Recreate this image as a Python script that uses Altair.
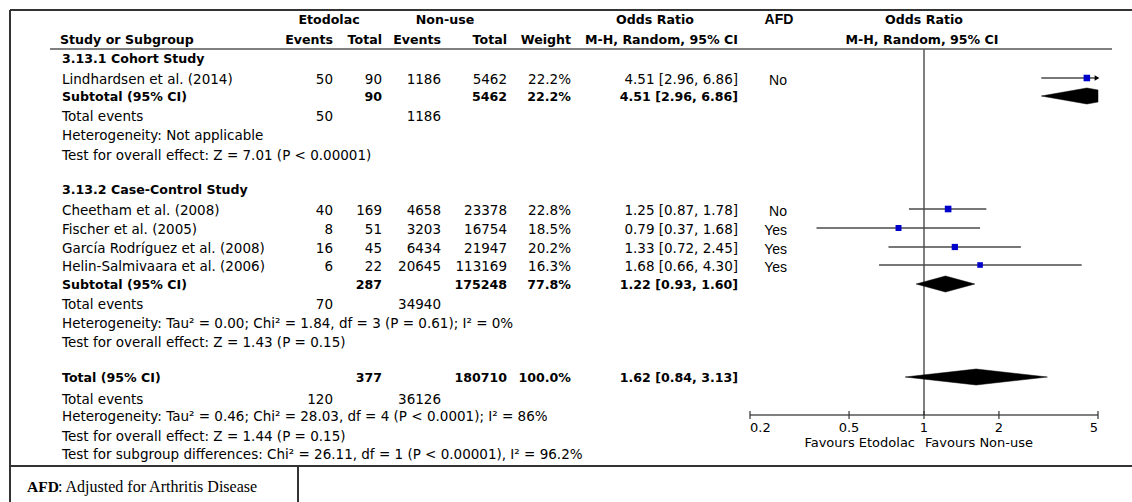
import math
import altair as alt
import pandas as pd

# ---- study data -------------------------------------------------------------
studies = [
    "Lindhardsen et al. (2014)",
    "Cheetham et al. (2008)",
    "Fischer et al. (2005)",
    "García Rodríguez et al. (2008)",
    "Helin-Salmivaara et al. (2006)",
]
study_group = [0, 1, 1, 1, 1]
etod_events = [50, 40, 8, 16, 6]
etod_total = [90, 169, 51, 45, 22]
nonuse_events = [1186, 4658, 3203, 6434, 20645]
nonuse_total = [5462, 23378, 16754, 21947, 113169]
weights = [22.2, 22.8, 18.5, 20.2, 16.3]
or_est = [4.51, 1.25, 0.79, 1.33, 1.68]
or_low = [2.96, 0.87, 0.37, 0.72, 0.66]
or_high = [6.86, 1.78, 1.68, 2.45, 4.30]
afd = ["No", "No", "Yes", "Yes", "Yes"]

# ---- subgroup summaries -----------------------------------------------------
group_titles = ["3.13.1 Cohort Study", "3.13.2 Case-Control Study"]
group_etod_events = [50, 70]
group_etod_total = [90, 287]
group_nonuse_events = [1186, 34940]
group_nonuse_total = [5462, 175248]
group_weight = [22.2, 77.8]
group_or = [4.51, 1.22]
group_low = [2.96, 0.93]
group_high = [6.86, 1.60]
group_heterogeneity = [
    "Heterogeneity: Not applicable",
    "Heterogeneity: Tau² = 0.00; Chi² = 1.84, df = 3 (P = 0.61); I² = 0%",
]
group_effect = [
    "Test for overall effect: Z = 7.01 (P < 0.00001)",
    "Test for overall effect: Z = 1.43 (P = 0.15)",
]

# ---- overall pooled result --------------------------------------------------
total_etod_events = 120
total_etod_total = 377
total_nonuse_events = 36126
total_nonuse_total = 180710
total_weight = 100.0
total_or = 1.62
total_low = 0.84
total_high = 3.13
total_heterogeneity = "Heterogeneity: Tau² = 0.46; Chi² = 28.03, df = 4 (P < 0.0001); I² = 86%"
total_effect = "Test for overall effect: Z = 1.44 (P = 0.15)"
subgroup_test = "Test for subgroup differences: Chi² = 26.11, df = 1 (P < 0.00001), I² = 96.2%"

axis_ticks = [0.2, 0.5, 1, 2, 5]

# ---- layout -----------------------------------------------------------------
W, H = 1132, 502
OR_MIN, OR_MAX = 0.2, 5
X_NAME = 62
X_EE, X_ET, X_NE, X_NT, X_W, X_OR, X_AFD = 333, 382, 441, 507, 571, 738, 787
FS, FS_B = 13.5, 12.6

# vertical positions of the table rows
row_y = {
    "head1": 20, "head2": 40,
    "g0_title": 59, "s0": 80, "g0_sub": 97, "g0_ev": 117, "g0_het": 136, "g0_eff": 156,
    "g1_title": 190, "s1": 211, "s2": 230, "s3": 249, "s4": 267,
    "g1_sub": 285, "g1_ev": 305, "g1_het": 324, "g1_eff": 343,
    "tot": 378, "tot_ev": 400, "tot_het": 417, "tot_eff": 437, "sub_test": 455,
}
PLOT_SHIFT = -2        # forest marks sit slightly above the text baseline
AXIS_Y = 415
DIAMOND_HALF = 8

pix_x = alt.Scale(domain=[0, W], range=[0, W])
pix_y = alt.Scale(domain=[0, H], range=[0, H])
or_scale = alt.Scale(type="log", domain=[OR_MIN, OR_MAX], range=[750, 1098])


def fmt_ci(e, lo, hi):
    return f"{e:.2f} [{lo:.2f}, {hi:.2f}]"


left_n, left_b, right_n, right_b, center_b = [], [], [], [], []

# headers
center_b += [("Etodolac", 329, row_y["head1"]), ("Non-use", 445, row_y["head1"]),
             ("Odds Ratio", 655, row_y["head1"]), ("Odds Ratio", 924, row_y["head1"]),
             ("M-H, Random, 95% CI", 922, row_y["head2"])]
left_b += [("Study or Subgroup", 60, row_y["head2"])]
right_b += [("Events", X_EE, row_y["head2"]), ("Total", X_ET, row_y["head2"]),
            ("Events", X_NE, row_y["head2"]), ("Total", X_NT, row_y["head2"]),
            ("Weight", X_W, row_y["head2"]), ("M-H, Random, 95% CI", X_OR, row_y["head2"])]

afd_rows = []
for g in range(2):
    left_b.append((group_titles[g], X_NAME, row_y[f"g{g}_title"]))
    for i, name in enumerate(studies):
        if study_group[i] != g:
            continue
        y = row_y[f"s{i}"]
        left_n.append((name, X_NAME, y))
        right_n += [(str(etod_events[i]), X_EE, y), (str(etod_total[i]), X_ET, y),
                    (str(nonuse_events[i]), X_NE, y), (str(nonuse_total[i]), X_NT, y),
                    (f"{weights[i]:.1f}%", X_W, y),
                    (fmt_ci(or_est[i], or_low[i], or_high[i]), X_OR, y)]
        afd_rows.append((afd[i], X_AFD, y + 1))
    y = row_y[f"g{g}_sub"]
    left_b.append(("Subtotal (95% CI)", X_NAME, y))
    right_b += [(str(group_etod_total[g]), X_ET, y), (str(group_nonuse_total[g]), X_NT, y),
                (f"{group_weight[g]:.1f}%", X_W, y),
                (fmt_ci(group_or[g], group_low[g], group_high[g]), X_OR, y)]
    y = row_y[f"g{g}_ev"]
    left_n.append(("Total events", X_NAME, y))
    right_n += [(str(group_etod_events[g]), X_EE, y), (str(group_nonuse_events[g]), X_NE, y)]
    left_n.append((group_heterogeneity[g], X_NAME, row_y[f"g{g}_het"]))
    left_n.append((group_effect[g], X_NAME, row_y[f"g{g}_eff"]))

y = row_y["tot"]
left_b.append(("Total (95% CI)", X_NAME, y))
right_b += [(str(total_etod_total), X_ET, y), (str(total_nonuse_total), X_NT, y),
            (f"{total_weight:.1f}%", X_W, y), (fmt_ci(total_or, total_low, total_high), X_OR, y)]
y = row_y["tot_ev"]
left_n.append(("Total events", X_NAME, y))
right_n += [(str(total_etod_events), X_EE, y), (str(total_nonuse_events), X_NE, y)]
left_n += [(total_heterogeneity, X_NAME, row_y["tot_het"]),
           (total_effect, X_NAME, row_y["tot_eff"]),
           (subgroup_test, X_NAME, row_y["sub_test"])]


def text_layer(rows, align, bold=False, font="DejaVu Sans", size=FS):
    df = pd.DataFrame(rows, columns=["label", "px", "py"])
    return alt.Chart(df).mark_text(
        align=align, baseline="middle", font=font, fontSize=size,
        fontWeight="bold" if bold else "normal", color="black",
    ).encode(
        x=alt.X("px:Q", scale=pix_x, axis=None),
        y=alt.Y("py:Q", scale=pix_y, axis=None),
        text="label:N",
    )


layers = [
    text_layer(left_n, "left"),
    text_layer(left_b, "left", bold=True, size=FS_B),
    text_layer(right_n, "right"),
    text_layer(right_b, "right", bold=True, size=FS_B),
    text_layer(center_b, "center", bold=True, size=FS_B),
    text_layer([("AFD", 779, row_y["head1"])], "center", bold=True,
               font="Liberation Sans", size=14),
    text_layer(afd_rows, "right", font="Liberation Sans", size=14),
    text_layer([("AFD", 27, 487)], "left", bold=True, font="Liberation Serif", size=15.5),
    text_layer([(": Adjusted for Arthritis Disease", 58, 487)], "left",
               font="Liberation Serif", size=16),
]

# frame and separators
frame = pd.DataFrame({
    "x1": [10, 10, 10, 298],
    "x2": [W, 10, W, 298],
    "y1": [10, 10, 466, 466],
    "y2": [10, H, 466, H],
})
layers.append(alt.Chart(frame).mark_rule(color="#333", strokeWidth=2).encode(
    x=alt.X("x1:Q", scale=pix_x, axis=None), x2="x2:Q",
    y=alt.Y("y1:Q", scale=pix_y, axis=None), y2="y2:Q"))
head_line = pd.DataFrame({"x1": [50], "x2": [1112], "y1": [49]})
layers.append(alt.Chart(head_line).mark_rule(color="#555", strokeWidth=1.5).encode(
    x=alt.X("x1:Q", scale=pix_x, axis=None), x2="x2:Q",
    y=alt.Y("y1:Q", scale=pix_y, axis=None)))

# ---- forest plot ------------------------------------------------------------
layers.append(alt.Chart(pd.DataFrame({"v": [1]})).mark_rule(color="#555", strokeWidth=1.5).encode(
    x=alt.X("v:Q", scale=or_scale, axis=None), y=alt.value(49), y2=alt.value(AXIS_Y)))

ci = pd.DataFrame({
    "lo": [max(v, OR_MIN) for v in or_low],
    "hi": [min(v, OR_MAX) for v in or_high],
    "est": or_est,
    "w": weights,
    "ry": [row_y[f"s{i}"] + PLOT_SHIFT for i in range(len(studies))],
})
layers.append(alt.Chart(ci).mark_rule(color="#4a4a4a", strokeWidth=1.5).encode(
    x=alt.X("lo:Q", scale=or_scale, axis=None), x2="hi:Q",
    y=alt.Y("ry:Q", scale=pix_y, axis=None)))
layers.append(alt.Chart(ci).mark_square(color="#0000cc", opacity=1, filled=True).encode(
    x=alt.X("est:Q", scale=or_scale, axis=None),
    y=alt.Y("ry:Q", scale=pix_y, axis=None),
    size=alt.Size("w:Q", scale=alt.Scale(domain=[0, 25], range=[0, 48]), legend=None)))

# arrow heads for intervals running past the axis
arrows = ci[[h > OR_MAX for h in or_high]].assign(edge=OR_MAX)
layers.append(alt.Chart(arrows).mark_point(shape="triangle-right", filled=True, color="black",
                                           opacity=1, size=30, xOffset=-1).encode(
    x=alt.X("edge:Q", scale=or_scale, axis=None),
    y=alt.Y("ry:Q", scale=pix_y, axis=None)))


def diamond(name, est, lo, hi, yc):
    """Closed outline of a pooled-estimate diamond, cut at the axis limits."""
    lmin, lmax = math.log(OR_MIN), math.log(OR_MAX)
    edges = [(math.log(lo), 0.0), (math.log(est), 1.0), (math.log(hi), 0.0)]
    top = []
    for (la, ha), (lb, hb) in zip(edges[:-1], edges[1:]):
        a0, b0 = max(la, lmin), min(lb, lmax)
        if a0 >= b0:
            continue
        ha0 = ha + (hb - ha) * (a0 - la) / (lb - la)
        hb0 = ha + (hb - ha) * (b0 - la) / (lb - la)
        for p in ((a0, ha0), (b0, hb0)):
            if not top or top[-1] != p:
                top.append(p)
    outline = [(lx, yc - h * DIAMOND_HALF) for lx, h in top]
    outline += [(lx, yc + h * DIAMOND_HALF) for lx, h in reversed(top)]
    outline.append(outline[0])
    return [{"grp": name, "k": k, "dx": math.exp(lx), "dy": yv}
            for k, (lx, yv) in enumerate(outline)]


drows = []
for g in range(2):
    drows += diamond(f"g{g}", group_or[g], group_low[g], group_high[g],
                     row_y[f"g{g}_sub"] + PLOT_SHIFT + 1)
drows += diamond("total", total_or, total_low, total_high, row_y["tot"] + PLOT_SHIFT + 1)
layers.append(alt.Chart(pd.DataFrame(drows)).mark_line(
    fill="black", stroke="black", strokeWidth=0.5).encode(
    x=alt.X("dx:Q", scale=or_scale, axis=None),
    y=alt.Y("dy:Q", scale=pix_y, axis=None),
    detail="grp:N", order="k:Q"))

# hand-drawn odds-ratio axis
axis_df = pd.DataFrame({"a": [OR_MIN], "b": [OR_MAX]})
layers.append(alt.Chart(axis_df).mark_rule(color="black", strokeWidth=1.2).encode(
    x=alt.X("a:Q", scale=or_scale, axis=None), x2="b:Q", y=alt.value(AXIS_Y)))
tick_df = pd.DataFrame({"t": axis_ticks, "lab": [f"{t:g}" for t in axis_ticks]})
layers.append(alt.Chart(tick_df).mark_rule(color="#333", strokeWidth=1.2).encode(
    x=alt.X("t:Q", scale=or_scale, axis=None), y=alt.value(AXIS_Y - 4), y2=alt.value(AXIS_Y + 4)))
for sel, al in ((tick_df.t == OR_MIN, "left"), (tick_df.t == OR_MAX, "right"),
                ((tick_df.t > OR_MIN) & (tick_df.t < OR_MAX), "center")):
    layers.append(alt.Chart(tick_df[sel]).mark_text(
        align=al, baseline="middle", font="DejaVu Sans", fontSize=13, color="black").encode(
        x=alt.X("t:Q", scale=or_scale, axis=None), y=alt.value(AXIS_Y + 13), text="lab:N"))
fav = pd.DataFrame({"v": [1]})
layers.append(alt.Chart(fav).mark_text(align="right", baseline="middle", font="DejaVu Sans",
                                       fontSize=13, dx=-9, text="Favours Etodolac").encode(
    x=alt.X("v:Q", scale=or_scale, axis=None), y=alt.value(AXIS_Y + 28)))
layers.append(alt.Chart(fav).mark_text(align="left", baseline="middle", font="DejaVu Sans",
                                       fontSize=13, dx=1, text="Favours Non-use").encode(
    x=alt.X("v:Q", scale=or_scale, axis=None), y=alt.value(AXIS_Y + 28)))

chart = alt.layer(*layers).resolve_scale(x="independent", y="shared").properties(
    width=W, height=H, autosize=alt.AutoSizeParams(type="none"), padding=0,
    background="white",
).configure_view(strokeWidth=0)

chart.save("out.html", embed_options={"renderer": "svg", "actions": False})
